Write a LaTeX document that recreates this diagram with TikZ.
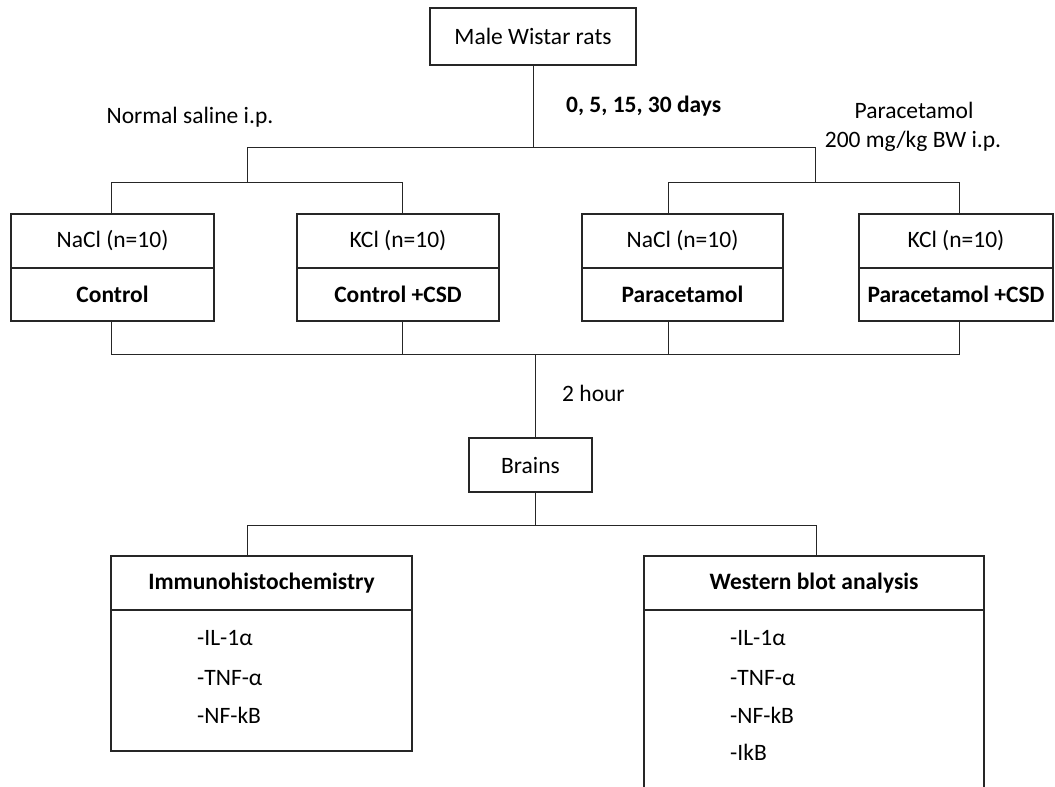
\documentclass[tikz,border=0pt]{standalone}
\usepackage{fontspec}
\setmainfont{Carlito}
\begin{document}
\begin{tikzpicture}[x=1pt,y=-1pt,
  box/.style={draw=black!85,line width=1.4pt,inner sep=0pt,rectangle},
  conn/.style={draw=black!85,line width=1pt},
  txt/.style={inner sep=0pt,font=\fontsize{23.5}{28}\selectfont},
  btxt/.style={inner sep=0pt,font=\fontsize{23.5}{28}\selectfont\bfseries},
  bfnt/.style={font=\fontsize{23.5}{28}\selectfont\bfseries}]
\clip (0,0) rectangle (1055,787);
\fill[white] (0,0) rectangle (1055,787);
\tikzset{every node/.style={font=\fontsize{23.5}{28}\selectfont}}
% top
\node[box,minimum width=206pt,minimum height=57pt] (rats) at (533,36.5) {Male Wistar rats};
\node[btxt,anchor=west] (days) at (566,106) {0, 5, 15, 30 days};
\node[txt] (saline) at (190,117) {Normal saline i.p.};
\node[txt] (para1) at (914,110) {Paracetamol};
\node[txt] (para2) at (913,141) {200 mg/kg BW i.p.};
% group boxes
\node[box,minimum width=203pt,minimum height=54pt] (b1t) at (112.5,241) {NaCl (n=10)};
\node[box,bfnt,minimum width=203pt,minimum height=53pt] (b1b) at (112.5,294.5) {Control};
\node[box,minimum width=202pt,minimum height=54pt] (b2t) at (398,241) {KCl (n=10)};
\node[box,bfnt,minimum width=202pt,minimum height=53pt] (b2b) at (398,294.5) {Control +CSD};
\node[box,minimum width=201pt,minimum height=54pt] (b3t) at (682.5,241) {NaCl (n=10)};
\node[box,bfnt,minimum width=201pt,minimum height=53pt] (b3b) at (682.5,294.5) {Paracetamol};
\node[box,minimum width=194pt,minimum height=54pt] (b4t) at (956,241) {KCl (n=10)};
\node[box,bfnt,minimum width=194pt,minimum height=53pt] (b4b) at (956,294.5) {Paracetamol +CSD};
% upper tree
\coordinate (h0) at (533,147);
\coordinate (hl) at (247,147);
\coordinate (hr) at (815,147);
\coordinate (l1) at (111,182);
\coordinate (l2) at (402,182);
\coordinate (r1) at (668,182);
\coordinate (r2) at (959,182);
\draw[conn] (rats.south) -- (h0);
\draw[conn] (hl) -- (hr);
\draw[conn] (hl) -- (hl |- l1);
\draw[conn] (hr) -- (hr |- r1);
\draw[conn] (l1) -- (l2);
\draw[conn] (r1) -- (r2);
\draw[conn] (l1) -- (l1 |- b1t.north);
\draw[conn] (l2) -- (l2 |- b2t.north);
\draw[conn] (r1) -- (r1 |- b3t.north);
\draw[conn] (r2) -- (r2 |- b4t.north);
% lower join
\coordinate (m1) at (111,354);
\coordinate (m2) at (402,354);
\coordinate (m3) at (668,354);
\coordinate (m4) at (959,354);
\coordinate (mc) at (535,354);
\draw[conn] (m1 |- b1b.south) -- (m1) -- (m4) -- (m4 |- b4b.south);
\draw[conn] (m2) -- (m2 |- b2b.south);
\draw[conn] (m3) -- (m3 |- b3b.south);
\node[box,minimum width=123pt,minimum height=54pt] (brains) at (530.5,465) {Brains};
\draw[conn] (mc) -- (mc |- brains.north);
\node[txt,anchor=west] (hour) at (562,393) {2 hour};
% bottom tree
\coordinate (n0) at (535,525);
\coordinate (nl) at (247,525);
\coordinate (nr) at (816,525);
\node[box,bfnt,minimum width=301pt,minimum height=54pt] (ihch) at (261.5,583) {Immunohistochemistry};
\node[box,minimum width=301pt,minimum height=141pt] (ihcb) at (261.5,680.5) {};
\node[box,bfnt,minimum width=340pt,minimum height=54pt] (wbh) at (814,583) {Western blot analysis};
\node[box,minimum width=340pt,minimum height=200pt] (wbb) at (814,710) {};
\draw[conn] (n0 |- brains.south) -- (n0);
\draw[conn] (nl) -- (nr);
\draw[conn] (nl) -- (nl |- ihch.north);
\draw[conn] (nr) -- (nr |- wbh.north);
% items
\node[txt,anchor=west] (i1) at (197,638) {-IL-1α};
\node[txt,anchor=west] (i2) at (197,678) {-TNF-α};
\node[txt,anchor=west] (i3) at (197,715) {-NF-kB};
\node[txt,anchor=west] (w1) at (730,638) {-IL-1α};
\node[txt,anchor=west] (w2) at (730,678) {-TNF-α};
\node[txt,anchor=west] (w3) at (730,715) {-NF-kB};
\node[txt,anchor=west] (w4) at (730,752) {-IkB};
\end{tikzpicture}
\end{document}
